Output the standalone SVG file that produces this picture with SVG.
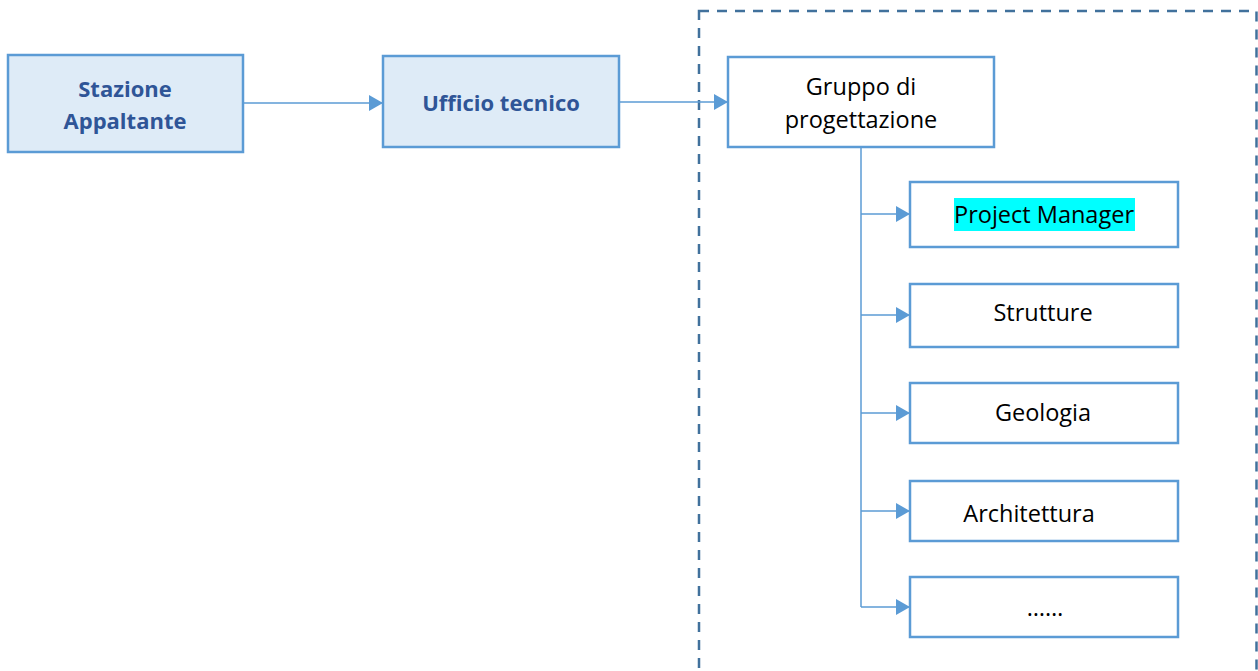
<svg xmlns="http://www.w3.org/2000/svg" width="1258" height="671" viewBox="0 0 1258 671">
<defs>
<style>
.box{fill:#fff;stroke:#5B9BD5;stroke-width:2.5}
.blue{fill:#DEEBF7}
.t{font-family:"Open Sans","Liberation Sans",Arial,sans-serif;font-size:23.5px;fill:#000;text-anchor:middle}
.b{font-weight:bold;font-size:22px;fill:#2F5597}
.c{fill:none;stroke:#5B9BD5;stroke-width:1.5}
</style>
<marker id="ah" markerWidth="14" markerHeight="16" refX="14" refY="8" orient="auto" markerUnits="userSpaceOnUse">
<path d="M0,0 L14,8 L0,16 Z" fill="#5B9BD5"/>
</marker>
</defs>
<rect width="1258" height="671" fill="#fff"/>
<rect x="699" y="11" width="557.5" height="680" fill="none" stroke="#41719C" stroke-width="2.5" stroke-dasharray="10,8"/>
<g id="connectors">
<line class="c" x1="243" y1="103" x2="383" y2="103" marker-end="url(#ah)"/>
<line class="c" x1="619" y1="102" x2="728" y2="102" marker-end="url(#ah)"/>
<polyline class="c" points="861,147 861,607"/>
<line class="c" x1="861" y1="214" x2="910" y2="214" marker-end="url(#ah)"/>
<line class="c" x1="861" y1="315" x2="910" y2="315" marker-end="url(#ah)"/>
<line class="c" x1="861" y1="413" x2="910" y2="413" marker-end="url(#ah)"/>
<line class="c" x1="861" y1="511" x2="910" y2="511" marker-end="url(#ah)"/>
<line class="c" x1="861" y1="607" x2="910" y2="607" marker-end="url(#ah)"/>
</g>
<g id="stazione">
<rect class="box blue" x="8" y="55" width="235" height="97"/>
<text class="t b" x="125" y="97">Stazione</text>
<text class="t b" x="125" y="129">Appaltante</text>
</g>
<g id="ufficio">
<rect class="box blue" x="383" y="56" width="236" height="91"/>
<text class="t b" x="501" y="111">Ufficio tecnico</text>
</g>
<g id="gruppo">
<rect class="box" x="728" y="57" width="266" height="90"/>
<text class="t" x="861" y="95">Gruppo di</text>
<text class="t" x="861" y="128">progettazione</text>
</g>
<g id="pm">
<rect class="box" x="910" y="182" width="268" height="65"/>
<rect x="954" y="198" width="181" height="33" fill="#00FFFF"/>
<text class="t" x="1044" y="223">Project Manager</text>
</g>
<g id="strutture">
<rect class="box" x="910" y="284" width="268" height="63"/>
<text class="t" x="1043" y="321">Strutture</text>
</g>
<g id="geologia">
<rect class="box" x="910" y="383" width="268" height="60"/>
<text class="t" x="1043" y="421">Geologia</text>
</g>
<g id="architettura">
<rect class="box" x="910" y="481" width="268" height="60"/>
<text class="t" x="1029" y="522">Architettura</text>
</g>
<g id="altro">
<rect class="box" x="910" y="577" width="268" height="60"/>
<text class="t" x="1045" y="616">……</text>
</g>
</svg>
